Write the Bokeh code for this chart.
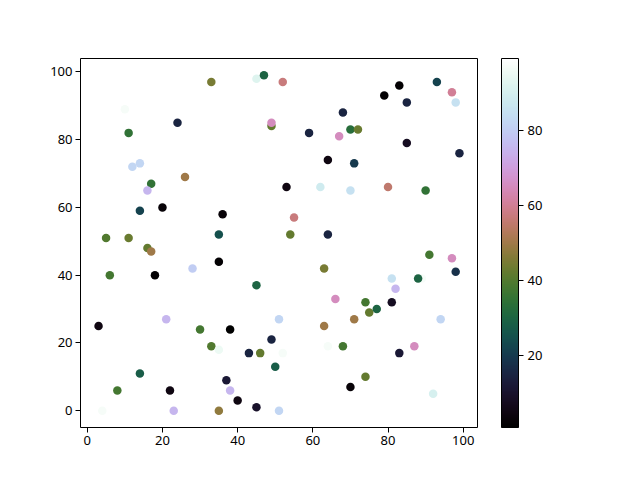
import numpy as np
from bokeh.plotting import figure
from bokeh.models import ColumnDataSource, LinearColorMapper, ColorBar, FixedTicker, Range1d
from bokeh.embed import file_html
from bokeh.resources import INLINE

x_vals = [33, 10, 24, 11, 12, 14, 26, 17, 16, 20, 14, 5, 11,
          45, 47, 52, 49, 49, 59, 68, 67, 64, 53, 62, 36, 55, 58, 35, 54, 64,
          83, 79, 93, 97, 98, 85, 70, 72, 85, 99, 71, 70, 80, 90,
          16, 17, 6, 18, 28, 3, 21, 30, 33, 14, 8, 22, 4, 23,
          35, 45, 63, 66, 51, 63, 38, 35, 43, 46, 49, 52, 50, 64, 37, 38, 40, 45, 35, 51,
          91, 97, 98, 81, 89, 88, 82, 74, 81, 75, 77, 71, 94, 68, 87, 83, 74, 70, 92]
y_vals = [97, 89, 85, 82, 72, 73, 69, 67, 65, 60, 59, 51, 51,
          98, 99, 97, 84, 85, 82, 88, 81, 74, 66, 66, 58, 57, 58, 52, 52, 52,
          96, 93, 97, 94, 91, 91, 83, 83, 79, 76, 73, 65, 66, 65,
          48, 47, 40, 40, 42, 25, 27, 24, 19, 11, 6, 6, 0, 0,
          44, 37, 42, 33, 27, 25, 24, 18, 17, 17, 21, 17, 13, 19, 9, 6, 3, 1, 0, 0,
          46, 45, 41, 39, 39, 39, 36, 32, 32, 29, 30, 27, 27, 19, 19, 17, 10, 7, 5]
c_vals = [45, 97, 15, 35, 82, 82, 50, 35, 75, 3, 22, 40, 43,
          92, 30, 57, 42, 65, 15, 15, 65, 5, 5, 88, 3, 57, 99, 25, 42, 15,
          2, 2, 22, 60, 85, 15, 33, 43, 8, 15, 20, 85, 55, 35,
          42, 50, 38, 2, 80, 5, 75, 38, 40, 28, 38, 5, 97, 75,
          2, 30, 45, 65, 82, 50, 1, 95, 15, 42, 15, 97, 28, 97, 12, 75, 5, 10, 48, 82,
          38, 65, 18, 85, 97, 30, 75, 38, 8, 42, 30, 50, 82, 38, 65, 12, 42, 3, 90]
cbar_ticks = [20, 40, 60, 80]
axis_ticks = [0, 20, 40, 60, 80, 100]

def cubehelix(n=256, gamma=1.0, s=0.5, r=-1.5, h=1.0):
    t = np.linspace(0, 1, n)
    xg = t ** gamma
    a = h * xg * (1 - xg) / 2
    phi = 2 * np.pi * (s / 3 + r * t)
    R = xg + a * (-0.14861 * np.cos(phi) + 1.78277 * np.sin(phi))
    G = xg + a * (-0.29227 * np.cos(phi) - 0.90649 * np.sin(phi))
    B = xg + a * (1.97294 * np.cos(phi))
    out = []
    for rr, gg, bb in zip(R, G, B):
        rr, gg, bb = [int(round(255 * min(1, max(0, v)))) for v in (rr, gg, bb)]
        out.append("#%02x%02x%02x" % (rr, gg, bb))
    return out

palette = cubehelix()
mapper = LinearColorMapper(palette=palette, low=min(c_vals), high=max(c_vals))

src = ColumnDataSource(dict(x=x_vals, y=y_vals, c=c_vals))

FONT = "Noto Sans"
p = figure(frame_width=397, frame_height=369, output_backend="svg", toolbar_location=None,
           x_range=Range1d(-1.8, 103.8), y_range=Range1d(-4.95, 103.95),
           min_border_left=80, min_border_top=58, min_border_bottom=40, min_border_right=20)
p.scatter("x", "y", source=src, size=8.5, line_color=None,
          fill_color={"field": "c", "transform": mapper})

p.xgrid.visible = False
p.ygrid.visible = False
p.outline_line_color = "black"
p.outline_line_width = 1
for ax in (p.xaxis[0], p.yaxis[0]):
    ax.ticker = FixedTicker(ticks=axis_ticks)
    ax.axis_line_color = None
    ax.major_tick_in = 0
    ax.major_tick_out = 5
    ax.major_tick_line_color = "black"
    ax.minor_tick_line_color = None
    ax.major_label_text_font = FONT
    ax.major_label_text_font_size = "13px"
    ax.major_label_text_color = "black"
    ax.major_label_standoff = 3

cb = ColorBar(color_mapper=mapper, width=17, height=369, padding=0, margin=0,
              location=(24, 0),
              ticker=FixedTicker(ticks=cbar_ticks),
              major_tick_in=0, major_tick_out=5, major_tick_line_color="black",
              minor_tick_line_color=None, bar_line_color="black",
              major_label_text_font=FONT, major_label_text_font_size="13px",
              major_label_text_color="black",
              label_standoff=4, background_fill_color=None)
p.add_layout(cb, "right")

open("out.html", "w").write(file_html(p, INLINE))
